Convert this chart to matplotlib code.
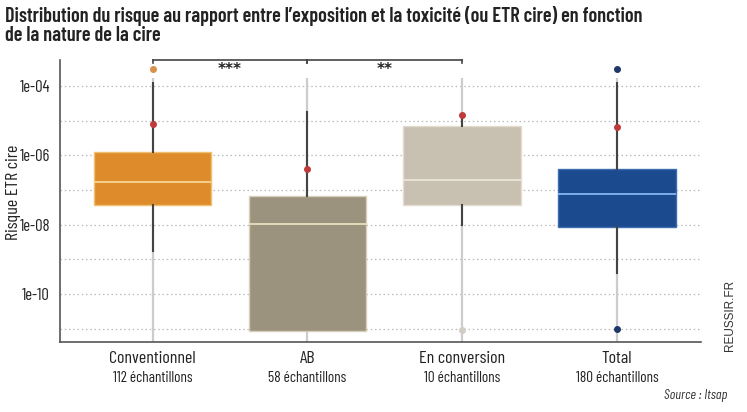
import matplotlib
matplotlib.use("Agg")
import matplotlib.pyplot as plt
import numpy as np

categories = ["Conventionnel", "AB", "En conversion", "Total"]
counts = ["112 échantillons", "58 échantillons", "10 échantillons", "180 échantillons"]
q1 = [10**-7.43, 10**-11.06, 10**-7.42, 10**-8.07]
med = [10**-6.77, 10**-7.98, 10**-6.70, 10**-7.12]
q3 = [10**-5.89, 10**-7.16, 10**-5.15, 10**-6.40]
whislo = [10**-8.75, 10**-11.06, 10**-8.0, 10**-9.40]
whishi = [10**-3.91, 10**-4.76, 10**-4.84, 10**-3.92]
means = [10**-5.08, 10**-6.40, 10**-4.84, 10**-5.19]
fliers = [[10**-3.51], [], [10**-11.03], [10**-3.51, 10**-11.02]]
yticks = [1e-4, 1e-6, 1e-8, 1e-10]
ytick_labels = ["1e-04", "1e-06", "1e-08", "1e-10"]
grid_levels = [1e-4, 1e-5, 1e-6, 1e-7, 1e-8, 1e-9, 1e-10, 1e-11]
signif = [(0, 1, "***"), (1, 2, "**")]

box_colors = ["#DE8C2B", "#9C937F", "#C8C0B0", "#1B4A8E"]
edge_colors = ["#F0C070", "#D8CFB8", "#E2DCCF", "#3E6DB0"]
median_colors = ["#F5D890", "#EADFC0", "#ECE6DA", "#86B6EE"]
flier_colors = ["#D9914A", "#9C937F", "#D2CDC4", "#1E3868"]
mean_color = "#C0393B"

plt.rcParams['font.family'] = ['Barlow Condensed', 'DejaVu Sans']

fig = plt.figure(figsize=(7.47, 4.12), dpi=100)
ax = fig.add_axes([0.080, 0.170, 0.858, 0.684])
ax.set_yscale("log")
ax.set_xlim(-0.60, 3.54)
ax.set_ylim(10**-11.38, 10**-3.25)

for g in grid_levels:
    ax.axhline(g, color="#BBBBBB", lw=0.9, ls=(0, (1.2, 2.2)), zorder=0)

x = np.arange(len(categories))
ax.vlines(x, 10**-11.38, 10**-3.76, color="#CCCCCC", lw=1.6, zorder=1)

for i in range(len(categories)):
    stats = [dict(med=med[i], q1=q1[i], q3=q3[i], whislo=whislo[i], whishi=whishi[i], fliers=[])]
    ax.bxp(stats, positions=[i], widths=0.76, patch_artist=True, showcaps=False,
           showfliers=False, manage_ticks=False,
           boxprops=dict(facecolor=box_colors[i], edgecolor=edge_colors[i], lw=1.0),
           medianprops=dict(color=median_colors[i], lw=1.3),
           whiskerprops=dict(color="#444444", lw=1.5), zorder=2)
    if fliers[i]:
        ax.scatter([i] * len(fliers[i]), fliers[i], s=16, color=flier_colors[i], zorder=3, clip_on=False)
    ax.scatter([i], [means[i]], s=16, color=mean_color, zorder=4)

for a, b, lab in signif:
    yb = 10**-3.25
    ax.plot([a, b], [yb, yb], color="#444444", lw=1.2, clip_on=False, zorder=5)
    for xx in (a, b):
        ax.plot([xx, xx], [yb, 10**-3.33], color="#444444", lw=1.2, clip_on=False, zorder=5)
    ax.text((a + b) / 2, 10**-3.53, lab, ha="center", va="center",
            fontsize=11, fontweight="bold", color="#222222", family=["DejaVu Sans"])

ax.set_yticks(yticks)
ax.set_yticklabels(ytick_labels, fontsize=12, color="#222222")
ax.yaxis.set_minor_locator(matplotlib.ticker.NullLocator())
ax.tick_params(axis="y", length=0, pad=7)
ax.set_xticks(x)
ax.set_xticklabels([""] * 4)
ax.tick_params(axis="x", length=0)
for i in range(len(categories)):
    ax.text(i, -0.058, categories[i], transform=ax.get_xaxis_transform(), ha="center", va="center",
            fontsize=13, color="#222222")
    ax.text(i, -0.128, counts[i], transform=ax.get_xaxis_transform(), ha="center", va="center",
            fontsize=11, color="#222222")

for s in ["top", "right"]:
    ax.spines[s].set_visible(False)
for s in ["left", "bottom"]:
    ax.spines[s].set_color("#555555")
    ax.spines[s].set_linewidth(1.2)

ax.set_ylabel("Risque ETR cire", fontsize=13, color="#222222", va="bottom")
ax.yaxis.set_label_coords(-0.060, 0.53)

fig.text(0.007, 0.985, "Distribution du risque au rapport entre l’exposition et la toxicité (ou ETR cire) en fonction\nde la nature de la cire",
         ha="left", va="top", fontsize=14.6, fontweight="semibold", color="#222222", linespacing=1.0)
fig.text(0.973, 0.040, "Source : Itsap", ha="right", va="center", fontsize=10, style="italic", color="#333333")
fig.text(0.977, 0.235, "REUSSIR.FR", ha="center", va="center", rotation=90, fontsize=8.5, color="#333333",
         family=["Liberation Sans", "DejaVu Sans"])

fig.savefig("out.png", dpi=100)
